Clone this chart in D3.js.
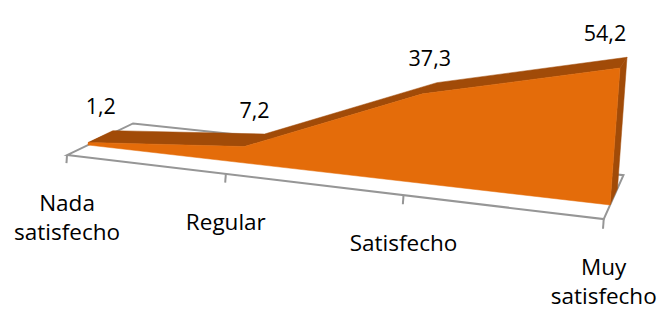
<!DOCTYPE html>
<html>
<head>
<meta charset="utf-8">
<script src="https://cdn.jsdelivr.net/npm/d3@7"></script>
<style>
  body { margin: 0; background: #fff; }
  text { font-family: "Open Sans", "Noto Sans", sans-serif; fill: #000; }
</style>
</head>
<body>
<div id="chart"></div>
<script>
// chart data
const categories = ["Nada satisfecho", "Regular", "Satisfecho", "Muy satisfecho"];
const values = [1.2, 7.2, 37.3, 54.2];
const valueLabels = ["1,2", "7,2", "37,3", "54,2"];

const FRAME_WIDTH = 662;
const FRAME_HEIGHT = 311;

const FRONT = "#E46C0A";
const DARK = "#A14B08";
const GRID = "#969696";

// depth of the area slab and of the floor (in depth units)
const Z_FRONT = 0, Z_BACK = 1;
const FLOOR_FRONT = -0.79, FLOOR_BACK = 1.87;

// scales: category -> u in [0,1], value -> v in [0,1]
const X_SCALE = d3.scalePoint().domain(categories).range([0, 1]);
const Y_SCALE = d3.scaleLinear().domain([0, 60]).range([0, 1]);

// perspective projection (homogeneous) of (u, v, z) to screen
const PROJ = {
  x: [88, 427.5, 9.3, 29],
  y: [145, 28.2, -128.1, -7],
  w: [1, -0.155, 0, 0.0368]
};
function project(u, v, z) {
  const dot = r => r[0] + r[1] * u + r[2] * v + r[3] * z;
  const w = dot(PROJ.w);
  return [dot(PROJ.x) / w, dot(PROJ.y) / w];
}

const FRAME = d3.select("#chart")
  .append("svg")
    .attr("width", FRAME_WIDTH)
    .attr("height", FRAME_HEIGHT);

const poly = pts => "M" + pts.map(p => p[0].toFixed(2) + "," + p[1].toFixed(2)).join("L") + "Z";
const line = d3.line();

// floor outline
const u0 = X_SCALE(categories[0]), u1 = X_SCALE(categories[categories.length - 1]);
FRAME.append("path")
  .attr("d", poly([
    project(u0, 0, FLOOR_FRONT), project(u1, 0, FLOOR_FRONT),
    project(u1, 0, FLOOR_BACK), project(u0, 0, FLOOR_BACK)]))
  .attr("fill", "none")
  .attr("stroke", GRID)
  .attr("stroke-width", 2);

// tick marks
FRAME.selectAll(".tick")
  .data(categories)
  .enter()
  .append("path")
    .attr("d", d => line([project(X_SCALE(d), 0, FLOOR_FRONT),
                          project(X_SCALE(d), Y_SCALE(-3.7), FLOOR_FRONT)]))
    .attr("stroke", GRID)
    .attr("stroke-width", 2);

// points of the area
const pts = categories.map((c, i) => ({u: X_SCALE(c), v: Y_SCALE(values[i])}));
const last = pts[pts.length - 1];
const first = pts[0];

// top surface
const topFront = pts.map(p => project(p.u, p.v, Z_FRONT));
const topBack = pts.map(p => project(p.u, p.v, Z_BACK)).reverse();
FRAME.append("path")
  .attr("d", poly(topFront.concat(topBack)))
  .attr("fill", DARK)
  .attr("stroke", DARK)
  .attr("stroke-width", 0.5);

// right side
FRAME.append("path")
  .attr("d", poly([
    project(last.u, 0, Z_FRONT), project(last.u, last.v, Z_FRONT),
    project(last.u, last.v, Z_BACK), project(last.u, 0, Z_BACK)]))
  .attr("fill", DARK)
  .attr("stroke", DARK)
  .attr("stroke-width", 0.5);

// left side
FRAME.append("path")
  .attr("d", poly([
    project(first.u, 0, Z_FRONT), project(first.u, first.v, Z_FRONT),
    project(first.u, first.v, Z_BACK), project(first.u, 0, Z_BACK)]))
  .attr("fill", DARK);

// front face
FRAME.append("path")
  .attr("d", poly([project(first.u, 0, Z_FRONT)]
    .concat(topFront)
    .concat([project(last.u, 0, Z_FRONT)])))
  .attr("fill", FRONT)
  .attr("stroke", FRONT)
  .attr("stroke-width", 0.5);

// value labels
FRAME.selectAll(".vlabel")
  .data(pts)
  .enter()
  .append("text")
    .attr("x", p => Math.min(project(p.u, p.v, 0.5)[0], FRAME_WIDTH - 57))
    .attr("y", p => project(p.u, p.v, 0.5)[1] - 22)
    .attr("text-anchor", "middle")
    .attr("font-size", "21.5px")
    .text((p, i) => valueLabels[i]);

// category labels
const cats = FRAME.selectAll(".clabel")
  .data(categories)
  .enter()
  .append("text")
    .attr("text-anchor", "middle")
    .attr("font-size", "22.5px")
    .attr("transform", d => {
      const p = project(X_SCALE(d), 0, FLOOR_FRONT);
      return "translate(" + p[0] + "," + (p[1] + 56) + ")";
    });

cats.selectAll("tspan")
  .data(d => d.split(" "))
  .enter()
  .append("tspan")
    .attr("x", 0)
    .attr("dy", (d, i) => i === 0 ? 0 : 29)
    .text(d => d);
</script>
</body>
</html>
